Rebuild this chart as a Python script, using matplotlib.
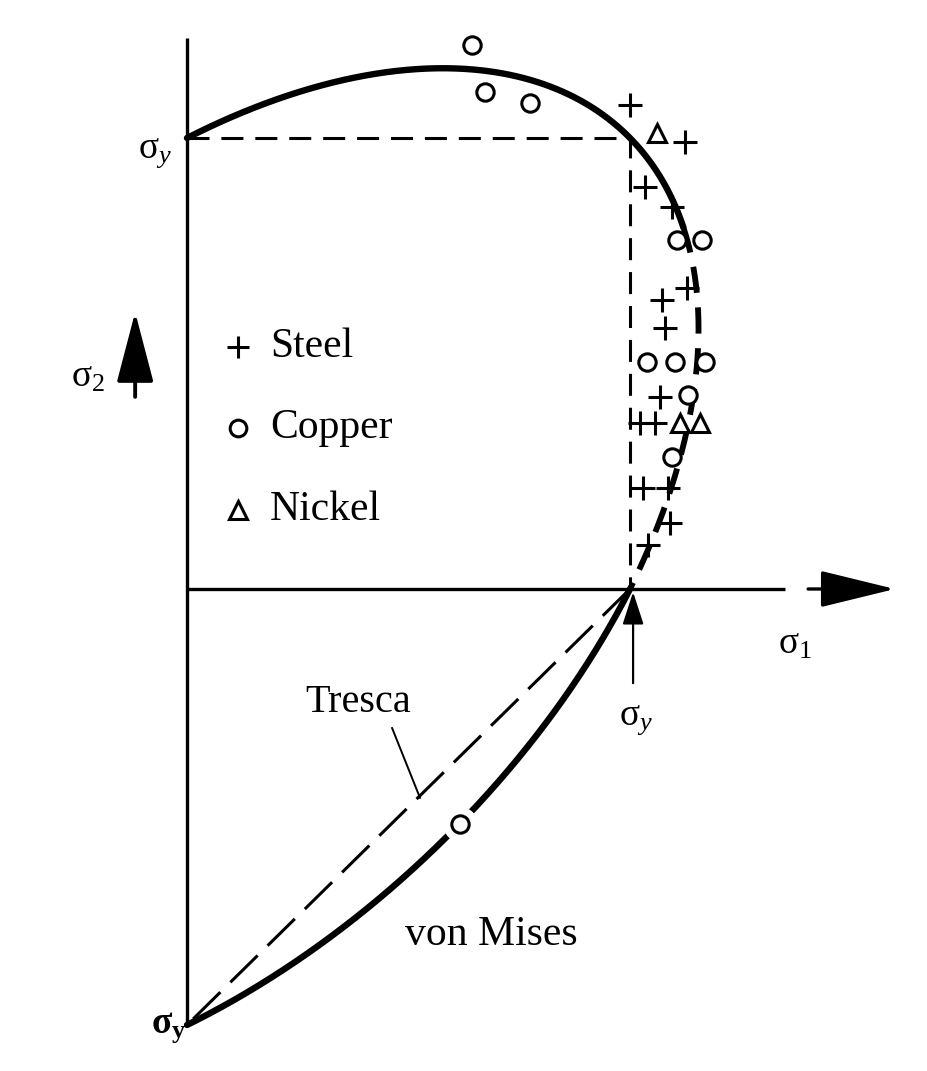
import numpy as np
import matplotlib.pyplot as plt

plt.rcParams['font.family'] = 'Liberation Serif'
plt.rcParams['mathtext.fontset'] = 'custom'
plt.rcParams['mathtext.rm'] = 'Liberation Serif'
plt.rcParams['mathtext.it'] = 'Liberation Serif:italic'
plt.rcParams['mathtext.bf'] = 'Liberation Serif:bold'

# yield test points, stresses normalised by sigma_y
steel_s1 = [1.000, 1.124, 1.034, 1.095, 1.129, 1.072, 1.079, 1.068,
            1.023, 1.056, 1.029, 1.086, 1.090, 1.041]
steel_s2 = [1.073, 0.991, 0.891, 0.847, 0.667, 0.641, 0.579, 0.426,
            0.368, 0.368, 0.224, 0.224, 0.146, 0.098]
copper_s1 = [0.643, 0.673, 0.774, 1.106, 1.163, 1.038, 1.102, 1.169,
             1.131, 1.095, 0.616]
copper_s2 = [1.206, 1.102, 1.078, 0.774, 0.774, 0.503, 0.503, 0.503,
             0.430, 0.293, -0.538]
nickel_s1 = [1.061, 1.113, 1.158]
nickel_s2 = [1.011, 0.368, 0.368]

legend_names = ['Steel', 'Copper', 'Nickel']

# the drawing is a little squashed below the sigma_1 axis
squash = 436 / 451


def fwd(v):
    v = np.asarray(v, dtype=float)
    return np.where(v >= 0, v, v * squash)


def inv(u):
    u = np.asarray(u, dtype=float)
    return np.where(u >= 0, u, u / squash)


fig = plt.figure(figsize=(9.28, 10.71), dpi=100)
ax = fig.add_axes([0, 0, 1, 1])
ax.set_yscale('function', functions=(fwd, inv))
ax.set_xlim(-0.4221, 1.6727)
ax.set_ylim(-1.1055, 1.306)
ax.axis('off')


def mises(t0, t1, n=300):
    # sigma1^2 - sigma1*sigma2 + sigma2^2 = 1, parametrised by angle t
    t = np.radians(np.linspace(t0, t1, n))
    return np.cos(t) + np.sin(t) / np.sqrt(3), np.cos(t) - np.sin(t) / np.sqrt(3)


# axes
ax.plot([0, 0], [1.222, -1.0], color='black', lw=2.4, solid_capstyle='butt')
ax.plot([0, 1.35], [0, 0], color='black', lw=2.4, solid_capstyle='butt')
ax.annotate('', xy=(1.598, 0), xytext=(1.402, 0),
            arrowprops=dict(arrowstyle='-|>,head_length=4.7,head_width=1.15',
                            mutation_scale=10, lw=2.4, color='black',
                            shrinkA=0, shrinkB=0))
ax.annotate('', xy=(-0.117, 0.614), xytext=(-0.117, 0.426),
            arrowprops=dict(arrowstyle='-|>,head_length=4.4,head_width=1.15',
                            mutation_scale=10, lw=2.8, color='black',
                            shrinkA=0, shrinkB=0))
ax.annotate('', xy=(1.007, -0.007), xytext=(1.007, -0.216),
            arrowprops=dict(arrowstyle='-|>,head_length=2.0,head_width=0.65',
                            mutation_scale=10, lw=1.6, color='black',
                            shrinkA=0, shrinkB=0))

# Tresca
ax.plot([0, 1, 1], [1, 1, 0], color='black', lw=2.2, ls=(0, (7.2, 3.9)))
ax.plot([1, 0], [0, -1], color='black', lw=2.2, ls=(0, (12.5, 4.6)))
ax.plot([0.463, 0.526], [-0.319, -0.479], color='black', lw=1.4)

# von Mises
x, y = mises(-60, 16)
ax.plot(x, y, color='black', lw=4.6, solid_capstyle='round')
x, y = mises(16, 60)
ax.plot(x, y, color='black', lw=4.2, ls=(0, (4.5, 2.5)))
x, y = mises(60, 120)
ax.plot(x, y, color='black', lw=4.6, solid_capstyle='round')

# test data
ax.plot(copper_s1[-1], copper_s2[-1], 'o', ms=24, color='white', zorder=3)
ax.plot(steel_s1, steel_s2, '+', ms=17, mew=2.2, color='black', zorder=4)
ax.plot(copper_s1, copper_s2, 'o', ms=12.5, mew=2.2, mfc='white',
        mec='black', zorder=4)
ax.plot(nickel_s1, nickel_s2, '^', ms=13, mew=2.2, mfc='white',
        mec='black', zorder=4)

# key
key_y = [0.537, 0.357, 0.175]
key_marker = [dict(marker='+', ms=16, mew=2.2, color='black'),
              dict(marker='o', ms=12, mew=2.2, mfc='white', mec='black'),
              dict(marker='^', ms=12.5, mew=2.2, mfc='white', mec='black')]
for name, ky, mk in zip(legend_names, key_y, key_marker):
    ax.plot(0.115, ky, ls='none', **mk)
    ax.text(0.187, ky, name, fontsize=30, va='center', ha='left')

# labels
ax.text(-0.034, 0.967, r'$\mathrm{\sigma}_y$', fontsize=27, ha='right', va='center')
ax.text(0.0, -1.007, r'$\mathbf{\sigma}_\mathbf{y}$', fontsize=27, ha='right', va='center')
ax.text(1.013, -0.30, r'$\mathrm{\sigma}_y$', fontsize=27, ha='center', va='center')
ax.text(1.372, -0.128, r'$\mathrm{\sigma}_\mathrm{1}$', fontsize=27, ha='center', va='center')
ax.text(-0.185, 0.47, r'$\mathrm{\sigma}_\mathrm{2}$', fontsize=27, ha='right', va='center')
ax.text(0.386, -0.282, 'Tresca', fontsize=29, ha='center', va='baseline')
ax.text(0.686, -0.817, 'von Mises', fontsize=30, ha='center', va='baseline')

fig.savefig('out.png', dpi=100)
